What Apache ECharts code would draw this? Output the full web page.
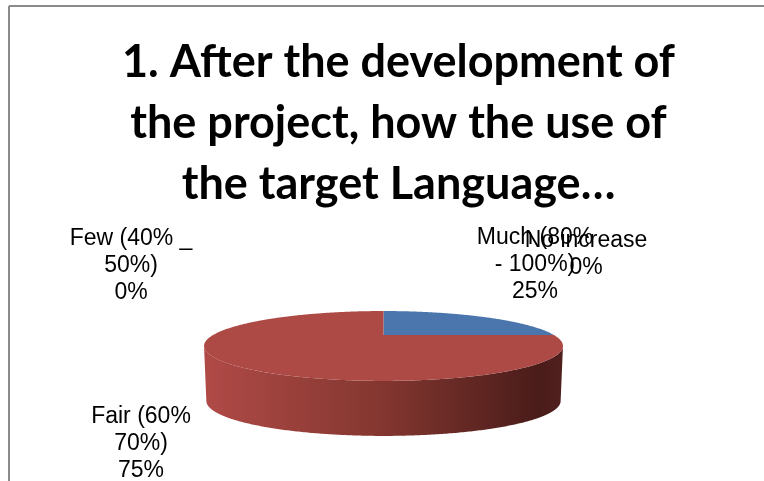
<!DOCTYPE html>
<html>
<head>
<meta charset="utf-8">
<style>html,body{margin:0;padding:0;background:#fff}#c{width:764px;height:481px}</style>
<script src="https://cdn.jsdelivr.net/npm/echarts@6/dist/echarts.min.js"></script>
</head>
<body>
<div id="c"></div>
<script>
const titleText = '1. After the development of\nthe project, how the use of\nthe target Language…';
const categories = ['Much (80%\n- 100%)', 'Fair (60%\n70%)', 'Few (40% _\n50%)', 'No increase'];
const values = [25, 75, 0, 0];
const faceColors = ['#4A76AD', '#AE4A46', '#98B954', '#7D60A0'];
const wallStops = [[0, '#B04A47'], [0.5, '#83362F'], [0.93, '#4A1C1A'], [1, '#50201D']];
const labelAnchors = [[535, 237], [141, 416], [131, 238], [586, 240]];

const disc = { cx: 383.5, apexY: 335, b: 170.4, a: 31.5, k: 0.314, depth: 55, shrink: 0.987, rimY: 346 };
const total = values.reduce((s, v) => s + v, 0);

function project(deg) {
  const t = deg * Math.PI / 180, X = Math.sin(t), Y = Math.cos(t), w = 1 + disc.k * Y;
  return [disc.cx + disc.b * X / w, disc.apexY - disc.a * Y / w];
}
function arc(from, to) {
  const pts = [];
  const n = Math.max(1, Math.ceil((to - from) * 2));
  for (let i = 0; i <= n; i++) pts.push(project(from + (to - from) * i / n));
  return pts;
}
function startAngle(i) {
  return values.slice(0, i).reduce((s, v) => s + v, 0) / total * 360;
}

function renderItem(params, api) {
  const i = params.dataIndex;
  const v = api.value(0);
  const from = startAngle(i), to = from + v / total * 360;
  const children = [];
  if (v > 0) {
    const front = arc(from, to).filter(p => p[1] >= disc.rimY);
    if (front.length > 1) {
      const lower = front.map(p => [disc.cx + (p[0] - disc.cx) * disc.shrink, p[1] + disc.depth]).reverse();
      children.push({
        type: 'polygon', z2: 1,
        shape: { points: front.concat(lower) },
        style: {
          fill: new echarts.graphic.LinearGradient(0, 0, 1, 0,
            wallStops.map(s => ({ offset: s[0], color: s[1] })))
        }
      });
    }
    children.push({
      type: 'polygon', z2: 2 + i,
      shape: { points: [[disc.cx, disc.apexY]].concat(arc(from, to)) },
      style: { fill: faceColors[i] }
    });
  }
  children.push({
    type: 'text', z2: 10,
    x: labelAnchors[i][0], y: labelAnchors[i][1],
    style: {
      text: categories[i] + '\n' + v + '%',
      font: '23px "Liberation Sans", Arial, sans-serif',
      fill: '#000', align: 'center', verticalAlign: 'top', lineHeight: 27,
      y: -13
    }
  });
  return { type: 'group', children };
}

const chart = echarts.init(document.getElementById('c'), null, { renderer: 'canvas' });
chart.setOption({
  animation: false,
  backgroundColor: '#fff',
  title: {
    text: titleText, left: 393.5, top: 27, textAlign: 'center',
    textStyle: { fontFamily: 'Lato', fontWeight: 'bold', fontSize: 45, lineHeight: 61, color: '#000' }
  },
  graphic: [
    { type: 'line', silent: true, shape: { x1: 9, y1: 6, x2: 764, y2: 6 }, style: { stroke: '#8a8a8a', lineWidth: 2 } },
    { type: 'line', silent: true, shape: { x1: 9, y1: 6, x2: 9, y2: 481 }, style: { stroke: '#8a8a8a', lineWidth: 2 } }
  ],
  series: [{
    type: 'custom', coordinateSystem: 'none', clip: false,
    data: values.map((v, i) => ({ name: categories[i], value: [v] })),
    renderItem
  }]
});
</script>
</body>
</html>
